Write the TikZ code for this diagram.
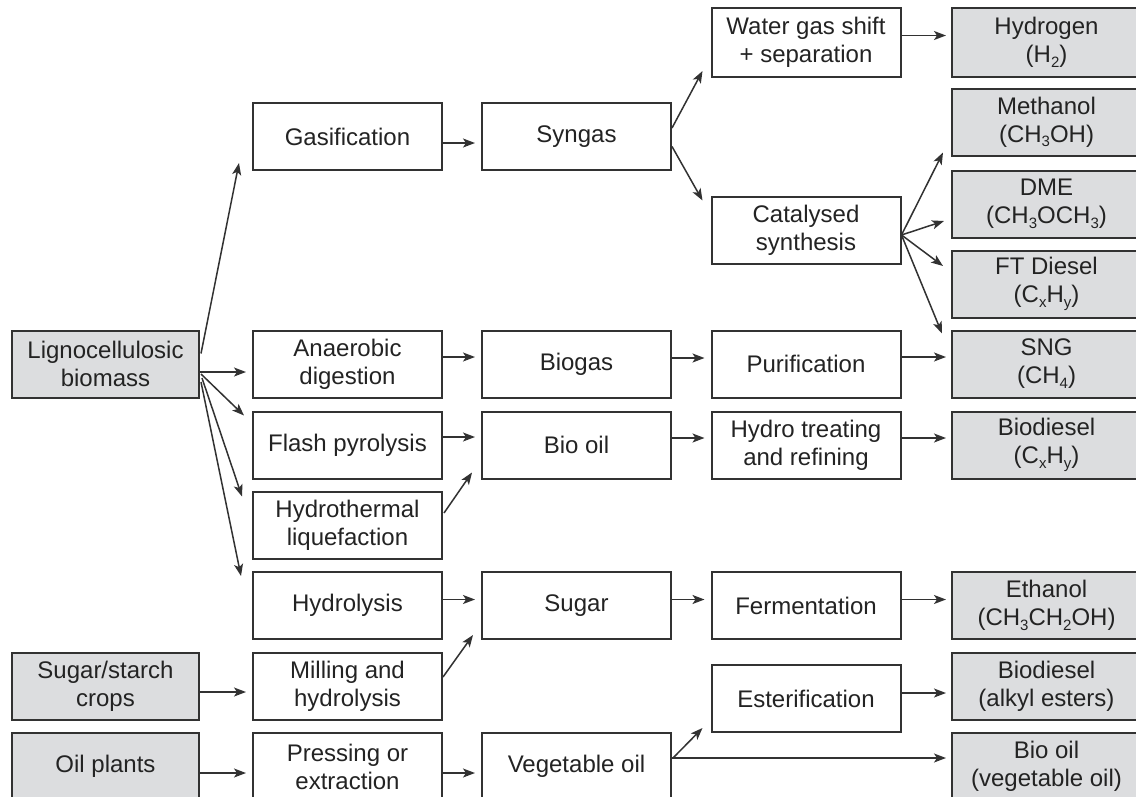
\documentclass[tikz,border=0pt]{standalone}
\usepackage{fontspec}
\setmainfont{Liberation Sans}
\usetikzlibrary{arrows.meta,calc}
\definecolor{edge}{RGB}{50,50,50}
\definecolor{ink}{RGB}{35,35,35}
\definecolor{fuel}{RGB}{220,221,223}
\newcommand\sbs[1]{\raisebox{-4.5pt}{\fontsize{15}{15}\selectfont #1}}

\begin{document}
\begin{tikzpicture}[x=1pt,y=-1pt,
  box/.style={draw=edge, line width=2pt, fill=white, minimum width=189pt,
    minimum height=67pt, inner sep=0pt, align=center, text=ink,
    font=\fontsize{24}{28}\selectfont},
  src/.style={box, fill=fuel, minimum width=187pt},
  prod/.style={box, fill=fuel},
  flow/.style={draw=edge, line width=1.5pt, -{Stealth[length=12pt,width=9pt,inset=3pt]}},
]
\clip (0,0) rectangle (1136,796);
\fill[white] (0,0) rectangle (1136,796);

% feedstocks
\node[src] (lig) at (105.5,364) {Lignocellulosic\\biomass};
\node[src] (sug) at (105.5,686) {Sugar/starch\\crops};
\node[src] (oil) at (105.5,766.5) {Oil plants};

% conversion steps
\node[box] (gas) at (347.5,136.5) {Gasification};
\node[box] (ana) at (347.5,364) {Anaerobic\\digestion};
\node[box] (fla) at (347.5,445) {Flash pyrolysis};
\node[box] (htl) at (347.5,525) {Hydrothermal\\liquefaction};
\node[box] (hyd) at (347.5,605.5) {Hydrolysis};
\node[box] (mil) at (347.5,686) {Milling and\\hydrolysis};
\node[box] (pre) at (347.5,766.5) {Pressing or\\extraction};

% intermediates
\node[box] (syn) at (576.5,136.5) {Syngas};
\node[box] (bgs) at (576.5,364) {Biogas};
\node[box] (bio) at (576.5,445) {Bio oil};
\node[box] (sgr) at (576.5,605.5) {Sugar};
\node[box] (veg) at (576.5,766.5) {Vegetable oil};

% upgrading
\node[box, minimum height=69pt] (wgs) at (806,42.5) {Water gas shift\\+ separation};
\node[box] (cat) at (806,230) {Catalysed\\synthesis};
\node[box] (pur) at (806,364) {Purification};
\node[box] (hdt) at (806,445) {Hydro treating\\and refining};
\node[box] (fer) at (806,605.5) {Fermentation};
\node[box] (est) at (806,698.5) {Esterification};

% fuels
\node[prod, minimum height=69pt] (h2) at (1046.5,42.5) {Hydrogen\\(H\sbs{2})};
\node[prod] (meoh) at (1046.5,122) {Methanol\\(CH\sbs{3}OH)};
\node[prod] (dme) at (1046.5,204) {DME\\(CH\sbs{3}OCH\sbs{3})};
\node[prod] (ft) at (1046.5,284) {FT Diesel\\(C\sbs{x}H\sbs{y})};
\node[prod] (sng) at (1046.5,364) {SNG\\(CH\sbs{4})};
\node[prod] (bd) at (1046.5,445) {Biodiesel\\(C\sbs{x}H\sbs{y})};
\node[prod] (eth) at (1046.5,605.5) {Ethanol\\(CH\sbs{3}CH\sbs{2}OH)};
\node[prod] (fame) at (1046.5,686) {Biodiesel\\(alkyl esters)};
\node[prod] (bov) at (1046.5,766.5) {Bio oil\\(vegetable oil)};

% lignocellulosic routes
\draw[flow] ($(lig.north east)+(1,24)$) -- ($(gas.south west)+(-13,-8)$);
\draw[flow] ($(lig.east)+(0,8)$) -- ($(ana.west)+(-6,8)$);
\draw[flow] ($(lig.east)+(1,10)$) -- ($(fla.north west)+(-8,5)$);
\draw[flow] ($(lig.east)+(2,14)$) -- ($(htl.north west)+(-10,6)$);
\draw[flow] ($(lig.east)+(1,18)$) -- ($(hyd.north west)+(-11,5)$);

% syngas chain
\draw[flow] ($(gas.east)+(0,6.5)$) -- ($(syn.west)+(-6,6.5)$);
\draw[flow] ($(syn.east)+(0,-8.5)$) -- ($(wgs.south west)+(-8,-7)$);
\draw[flow] ($(syn.east)+(0,10)$) -- ($(cat.north west)+(-8,5)$);
\draw[flow] ($(wgs.east)+(0,-7)$) -- ($(h2.west)+(-5,-7)$);
\coordinate (cf) at ($(cat.east)+(0,5)$);
\draw[flow] (cf) -- ($(meoh.south west)+(-8,-4)$);
\draw[flow] (cf) -- ($(dme.west)+(-7,17)$);
\draw[flow] (cf) -- ($(ft.west)+(-8,-18)$);
\draw[flow] (cf) -- ($(sng.north west)+(-9,4)$);

% biogas chain
\draw[flow] ($(ana.east)+(0,-7)$) -- ($(bgs.west)+(-6,-7)$);
\draw[flow] ($(bgs.east)+(0,-6)$) -- ($(pur.west)+(-6,-6)$);
\draw[flow] ($(pur.east)+(0,-7)$) -- ($(sng.west)+(-5,-7)$);

% bio oil chain
\draw[flow] ($(fla.east)+(0,-8)$) -- ($(bio.west)+(-6,-8)$);
\draw[flow] ($(htl.east)+(1,-12)$) -- ($(bio.south west)+(-9,-7)$);
\draw[flow] ($(bio.east)+(0,-7)$) -- ($(hdt.west)+(-6,-7)$);
\draw[flow] ($(hdt.east)+(0,-7)$) -- ($(bd.west)+(-5,-7)$);

% sugar chain
\draw[flow] ($(hyd.east)+(0,-6)$) -- ($(sgr.west)+(-6,-6)$);
\draw[flow] ($(mil.east)+(0,-9)$) -- ($(sgr.south west)+(-8,-5)$);
\draw[flow] ($(sgr.east)+(0,-6)$) -- ($(fer.west)+(-6,-6)$);
\draw[flow] ($(fer.east)+(0,-6)$) -- ($(eth.west)+(-5,-6)$);
\draw[flow] ($(sug.east)+(0,6)$) -- ($(mil.west)+(-6,6)$);

% oil chain
\draw[flow] ($(oil.east)+(0,6.5)$) -- ($(pre.west)+(-6,6.5)$);
\draw[flow] ($(pre.east)+(0,6.5)$) -- ($(veg.west)+(-6,6.5)$);
\draw[flow] ($(veg.east)+(1,-8.5)$) -- ($(est.south west)+(-8,-5)$);
\draw[flow] ($(veg.east)+(0,-8.5)$) -- ($(bov.west)+(-5,-8.5)$);
\draw[flow] ($(est.east)+(0,-5.5)$) -- ($(fame.west)+(-5,7)$);
\end{tikzpicture}
\end{document}
